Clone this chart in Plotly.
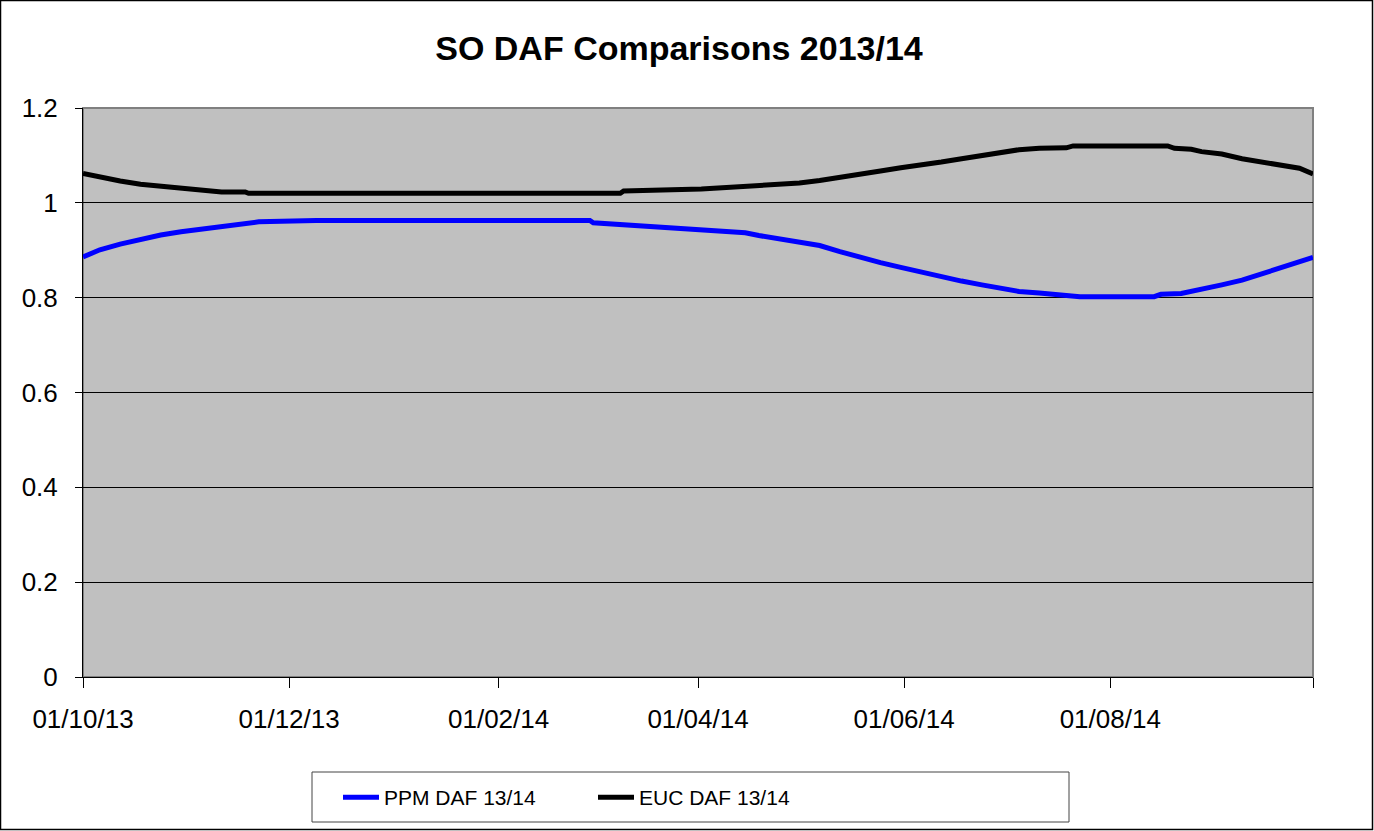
import plotly.graph_objects as go

# ---- data ----
ppm_dates = ["2013-10-01", "2013-10-06", "2013-10-12", "2013-10-18", "2013-10-24", "2013-10-30",
             "2013-11-05", "2013-11-11", "2013-11-16", "2013-11-22", "2013-12-09", "2014-02-28",
             "2014-03-01", "2014-03-10", "2014-03-21", "2014-03-31", "2014-04-09", "2014-04-15",
             "2014-04-19", "2014-04-25", "2014-05-01", "2014-05-07", "2014-05-13", "2014-05-19",
             "2014-05-25", "2014-05-31", "2014-06-06", "2014-06-12", "2014-06-18", "2014-06-24",
             "2014-06-30", "2014-07-05", "2014-07-11", "2014-07-17", "2014-07-23", "2014-08-14",
             "2014-08-16", "2014-08-22", "2014-08-25", "2014-08-28", "2014-09-03", "2014-09-09",
             "2014-09-15", "2014-09-20", "2014-09-26", "2014-09-30"]
ppm_values = [0.886, 0.901, 0.913, 0.923, 0.932, 0.939,
              0.945, 0.951, 0.956, 0.960, 0.963, 0.963,
              0.958, 0.954, 0.949, 0.945, 0.941, 0.937,
              0.931, 0.924, 0.918, 0.910, 0.897, 0.885,
              0.874, 0.864, 0.854, 0.844, 0.835, 0.827,
              0.820, 0.813, 0.810, 0.806, 0.802, 0.802,
              0.807, 0.809, 0.813, 0.818, 0.827, 0.837,
              0.850, 0.862, 0.874, 0.885]

euc_dates = ["2013-10-01", "2013-10-06", "2013-10-12", "2013-10-18", "2013-10-24", "2013-10-30",
             "2013-11-05", "2013-11-11", "2013-11-18", "2013-11-19", "2014-03-09", "2014-03-10",
             "2014-04-02", "2014-04-15", "2014-04-22", "2014-05-01", "2014-05-07", "2014-05-13",
             "2014-05-19", "2014-05-25", "2014-05-31", "2014-06-06", "2014-06-12", "2014-06-18",
             "2014-06-24", "2014-06-30", "2014-07-05", "2014-07-11", "2014-07-19", "2014-07-21",
             "2014-08-18", "2014-08-20", "2014-08-25", "2014-08-28", "2014-09-03", "2014-09-09",
             "2014-09-15", "2014-09-20", "2014-09-26", "2014-09-30"]
euc_values = [1.062, 1.054, 1.046, 1.039, 1.035, 1.029,
              1.025, 1.023, 1.023, 1.020, 1.020, 1.025,
              1.029, 1.034, 1.038, 1.042, 1.047, 1.053,
              1.060, 1.067, 1.074, 1.079, 1.086, 1.093,
              1.100, 1.105, 1.112, 1.115, 1.116, 1.120,
              1.120, 1.115, 1.113, 1.108, 1.103, 1.093,
              1.086, 1.079, 1.073, 1.061]

x_tick_vals = ["2013-10-01", "2013-12-01", "2014-02-01", "2014-04-01", "2014-06-01", "2014-08-01", "2014-09-30"]
x_tick_text = ["01/10/13", "01/12/13", "01/02/14", "01/04/14", "01/06/14", "01/08/14", ""]
y_tick_vals = [0, 0.2, 0.4, 0.6, 0.8, 1.0, 1.2]
y_tick_text = ["0", "0.2", "0.4", "0.6", "0.8", "1", "1.2"]

W, H = 1374, 831
L, R, T, B = 83, 61, 108, 154
pw, ph = W - L - R, H - T - B


def px_x(x):
    return (x - L) / pw


def px_y(y):
    return (H - B - y) / ph


fig = go.Figure()
fig.add_trace(go.Scatter(x=ppm_dates, y=ppm_values, mode="lines", name="PPM DAF 13/14",
                         line=dict(color="#0000FF", width=5)))
fig.add_trace(go.Scatter(x=euc_dates, y=euc_values, mode="lines", name="EUC DAF 13/14",
                         line=dict(color="#000000", width=5)))

font_family = "Arial, Liberation Sans, sans-serif"

fig.update_layout(
    width=W, height=H,
    margin=dict(l=L, r=R, t=T, b=B, autoexpand=False),
    paper_bgcolor="white",
    plot_bgcolor="#C0C0C0",
    font=dict(family=font_family, color="black"),
    title=dict(text="<b>SO DAF Comparisons 2013/14</b>", x=px_x(679), xref="paper",
               xanchor="center", y=1 - 48 / H, yanchor="middle",
               font=dict(size=34, family=font_family, color="black")),
    showlegend=True,
    legend=dict(orientation="h", x=px_x(338), xanchor="left", y=px_y(777), yanchor="top",
                borderwidth=0, bgcolor="rgba(0,0,0,0)",
                font=dict(size=21, family=font_family, color="black"),
                entrywidth=204, itemwidth=36, traceorder="normal"),
    xaxis=dict(type="date", range=["2013-10-01", "2014-09-30"],
               tickmode="array", tickvals=x_tick_vals, ticktext=x_tick_text,
               ticks="outside", ticklen=10, tickwidth=1, tickcolor="black",
               ticklabelstandoff=9,
               showgrid=False, zeroline=False, showline=True, linecolor="black", linewidth=1,
               tickfont=dict(size=26, family=font_family, color="black")),
    yaxis=dict(range=[0, 1.2], tickmode="array", tickvals=y_tick_vals, ticktext=y_tick_text,
               ticks="outside", ticklen=7, tickwidth=1, tickcolor="black",
               ticklabelstandoff=12,
               showgrid=True, gridcolor="black", gridwidth=1,
               zeroline=False, showline=True, linecolor="black", linewidth=1,
               tickfont=dict(size=26, family=font_family, color="black")),
)

# plot area border (gray) on top/right
fig.add_shape(type="rect", xref="paper", yref="paper", x0=0, y0=0, x1=1, y1=1,
              line=dict(color="#808080", width=2), layer="below")
# legend box
fig.add_shape(type="rect", xref="paper", yref="paper",
              x0=px_x(312), x1=px_x(1069), y0=px_y(822), y1=px_y(772),
              line=dict(color="#444444", width=1), fillcolor="white", layer="below")
# outer chart border
fig.add_shape(type="rect", xref="paper", yref="paper",
              x0=px_x(0.5), x1=px_x(W - 1.5), y0=px_y(H - 1.5), y1=px_y(0.5),
              line=dict(color="black", width=1.5))

fig.write_html("out.html", config={"displayModeBar": False},
               post_script="document.body.style.margin='0';")
